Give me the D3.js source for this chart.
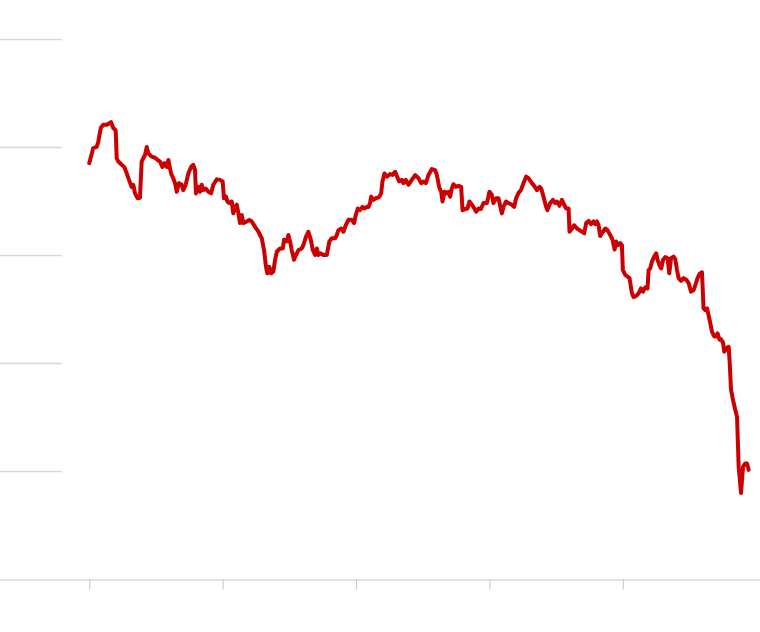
<!DOCTYPE html>
<html>
<head>
<meta charset="utf-8">
<script src="https://cdn.jsdelivr.net/npm/d3@7"></script>
<style>
  html, body { margin: 0; padding: 0; background: #fff; }
  svg { display: block; }
</style>
</head>
<body>
<div id="chart"></div>
<script>
// ---- Data ----
const xTickValues = [2015, 2016, 2017, 2018, 2019];
const yTickValues = [20, 40, 60, 80, 100];

const dates = [
  2015.000, 2015.030, 2015.056, 2015.068, 2015.086, 2015.105, 2015.131, 2015.144, 2015.163, 2015.180,
  2015.198, 2015.206, 2015.218, 2015.243, 2015.263, 2015.281, 2015.298, 2015.318, 2015.330, 2015.343,
  2015.363, 2015.380, 2015.393, 2015.405, 2015.418, 2015.431, 2015.443, 2015.468, 2015.493, 2015.513,
  2015.530, 2015.548, 2015.563, 2015.581, 2015.593, 2015.613, 2015.630, 2015.643, 2015.656, 2015.673,
  2015.693, 2015.705, 2015.723, 2015.743, 2015.763, 2015.780, 2015.793, 2015.800, 2015.818, 2015.830,
  2015.843, 2015.855, 2015.873, 2015.893, 2015.913, 2015.930, 2015.956, 2015.980, 2016.000, 2016.010,
  2016.025, 2016.035, 2016.050, 2016.068, 2016.080, 2016.093, 2016.106, 2016.118, 2016.130, 2016.143,
  2016.155, 2016.181, 2016.200, 2016.218, 2016.243, 2016.268, 2016.293, 2016.310, 2016.325, 2016.335,
  2016.350, 2016.363, 2016.380, 2016.393, 2016.406, 2016.430, 2016.451, 2016.460, 2016.481, 2016.493,
  2016.505, 2016.518, 2016.535, 2016.550, 2016.568, 2016.593, 2016.605, 2016.625, 2016.643, 2016.661,
  2016.676, 2016.693, 2016.706, 2016.718, 2016.736, 2016.755, 2016.781, 2016.800, 2016.818, 2016.843,
  2016.856, 2016.868, 2016.888, 2016.905, 2016.923, 2016.943, 2016.968, 2016.985, 2016.998, 2017.013,
  2017.030, 2017.048, 2017.063, 2017.081, 2017.093, 2017.105, 2017.113, 2017.130, 2017.148, 2017.173,
  2017.188, 2017.198, 2017.213, 2017.231, 2017.255, 2017.273, 2017.293, 2017.313, 2017.323, 2017.343,
  2017.355, 2017.373, 2017.393, 2017.418, 2017.443, 2017.468, 2017.488, 2017.505, 2017.523, 2017.543,
  2017.568, 2017.593, 2017.606, 2017.623, 2017.638, 2017.648, 2017.663, 2017.681, 2017.693, 2017.705,
  2017.718, 2017.730, 2017.748, 2017.768, 2017.788, 2017.798, 2017.818, 2017.835, 2017.850, 2017.868,
  2017.880, 2017.900, 2017.918, 2017.936, 2017.955, 2017.981, 2018.000, 2018.018, 2018.030, 2018.050,
  2018.068, 2018.093, 2018.105, 2018.125, 2018.143, 2018.168, 2018.185, 2018.200, 2018.218, 2018.236,
  2018.255, 2018.275, 2018.293, 2018.318, 2018.335, 2018.356, 2018.375, 2018.388, 2018.405, 2018.425,
  2018.435, 2018.455, 2018.476, 2018.493, 2018.506, 2018.525, 2018.543, 2018.560, 2018.575, 2018.593,
  2018.600, 2018.618, 2018.635, 2018.656, 2018.675, 2018.693, 2018.710, 2018.725, 2018.743, 2018.761,
  2018.780, 2018.793, 2018.806, 2018.818, 2018.830, 2018.851, 2018.868, 2018.885, 2018.905, 2018.923,
  2018.938, 2018.950, 2018.963, 2018.980, 2018.993, 2019.000, 2019.018, 2019.035, 2019.050, 2019.068,
  2019.080, 2019.100, 2019.118, 2019.136, 2019.151, 2019.168, 2019.185, 2019.193, 2019.205, 2019.218,
  2019.235, 2019.250, 2019.260, 2019.275, 2019.288, 2019.301, 2019.318, 2019.335, 2019.348, 2019.361,
  2019.380, 2019.393, 2019.406, 2019.418, 2019.436, 2019.455, 2019.475, 2019.493, 2019.511, 2019.530,
  2019.543, 2019.560, 2019.575, 2019.593, 2019.605, 2019.618, 2019.631, 2019.650, 2019.668, 2019.685,
  2019.700, 2019.710, 2019.725, 2019.736, 2019.751, 2019.760, 2019.775, 2019.793, 2019.800, 2019.811,
  2019.826, 2019.843, 2019.856, 2019.868, 2019.886, 2019.893, 2019.901, 2019.918, 2019.931, 2019.943
];

const values = [
  77.1, 79.9, 80.1, 81.1, 83.6, 84.2, 84.2, 84.4, 84.7, 83.6,
  83.2, 78.0, 77.4, 76.8, 76.4, 75.2, 74.0, 72.7, 73.1, 71.5,
  70.6, 70.7, 77.4, 78.0, 78.6, 80.1, 78.9, 78.3, 78.1, 77.7,
  77.4, 76.4, 77.1, 76.4, 77.7, 75.2, 74.3, 73.4, 71.8, 73.4,
  73.1, 72.1, 73.1, 75.2, 76.4, 76.8, 75.8, 71.5, 72.7, 71.8,
  73.1, 72.1, 72.4, 71.8, 71.5, 73.1, 74.1, 74.0, 73.7, 70.6,
  70.9, 70.0, 69.7, 70.0, 67.8, 69.0, 69.4, 67.8, 66.0, 67.5,
  66.0, 66.3, 66.6, 66.3, 65.3, 64.4, 63.2, 61.0, 57.9, 56.7,
  57.9, 56.7, 57.0, 59.2, 60.7, 61.3, 61.3, 62.9, 62.6, 63.8,
  62.6, 61.0, 59.2, 60.1, 61.0, 61.3, 61.9, 63.5, 64.4, 62.9,
  61.0, 60.1, 61.3, 60.1, 60.4, 60.1, 60.1, 62.6, 63.2, 63.2,
  63.8, 64.7, 65.0, 64.4, 65.6, 66.6, 66.6, 66.0, 67.5, 68.7,
  68.4, 69.0, 68.7, 69.0, 69.0, 69.7, 70.9, 70.3, 70.6, 70.8,
  71.5, 73.7, 75.2, 74.6, 75.1, 74.9, 75.5, 74.3, 73.7, 74.0,
  73.4, 74.0, 73.1, 74.0, 74.9, 74.3, 73.4, 73.7, 73.4, 74.9,
  76.0, 75.8, 74.9, 72.7, 71.8, 70.0, 71.8, 71.5, 71.8, 70.9,
  72.4, 73.2, 72.7, 72.9, 72.7, 68.4, 68.6, 68.7, 70.0, 69.4,
  69.0, 68.1, 68.7, 68.6, 69.7, 69.7, 71.8, 71.2, 69.7, 70.6,
  70.6, 67.8, 69.0, 70.0, 69.7, 69.4, 69.0, 70.6, 71.6, 72.1,
  73.4, 74.6, 74.3, 73.4, 72.9, 72.1, 72.7, 72.4, 70.9, 69.0,
  68.4, 69.7, 70.3, 69.7, 70.0, 69.2, 70.3, 69.4, 68.7, 68.7,
  64.4, 65.0, 65.6, 65.0, 64.7, 64.4, 64.1, 66.0, 66.4, 65.8,
  66.3, 65.8, 66.3, 65.6, 63.6, 64.4, 65.0, 64.7, 63.8, 62.9,
  61.1, 62.6, 61.9, 62.3, 61.9, 57.3, 56.4, 56.1, 55.8, 53.0,
  52.3, 52.5, 53.0, 53.9, 53.3, 54.1, 53.9, 57.3, 57.6, 58.9,
  59.8, 60.4, 59.2, 58.2, 57.6, 59.2, 59.7, 59.5, 56.7, 59.5,
  59.8, 59.3, 57.3, 55.8, 55.3, 55.8, 55.5, 54.9, 53.3, 53.6,
  54.5, 55.8, 56.6, 56.9, 50.2, 49.9, 50.2, 48.1, 45.9, 45.0,
  45.0, 45.6, 44.4, 44.5, 43.9, 42.2, 42.8, 43.1, 40.6, 35.1,
  33.2, 31.4, 30.1, 20.9, 16.0, 18.4, 20.9, 21.5, 21.5, 20.3
];

// ---- Layout ----
const W = 760, H = 632;
const baseY = 579.5, topY = 39.5;

const svg = d3.select("#chart").append("svg")
  .attr("width", W).attr("height", H);

const x = d3.scaleLinear().domain([2014.331, 2020.028]).range([0, W]);
const y = d3.scaleLinear().domain([0, 100]).range([baseY, topY]);

// Left-side short gridlines
svg.append("g")
  .selectAll("line")
  .data(yTickValues)
  .join("line")
  .attr("x1", 0).attr("x2", 62)
  .attr("y1", d => y(d)).attr("y2", d => y(d))
  .attr("stroke", "#d8d8d8")
  .attr("stroke-width", 1.3);

// Bottom axis
const xAxis = d3.axisBottom(x)
  .tickValues(xTickValues)
  .tickSize(10)
  .tickSizeOuter(0)
  .tickFormat("");

const gx = svg.append("g")
  .attr("transform", `translate(0,${baseY})`)
  .call(xAxis);
gx.select(".domain").attr("stroke", "#d8d8d8").attr("stroke-width", 1.5);
gx.selectAll(".tick line").attr("stroke", "#c8c8c8").attr("stroke-width", 1);

// Line
const data = dates.map((d, i) => ({ t: d, v: values[i] }));
const line = d3.line().x(d => x(d.t)).y(d => y(d.v));

svg.append("path")
  .datum(data)
  .attr("d", line)
  .attr("fill", "none")
  .attr("stroke", "#cc0000")
  .attr("stroke-width", 4)
  .attr("stroke-linejoin", "round")
  .attr("stroke-linecap", "round");
</script>
</body>
</html>
